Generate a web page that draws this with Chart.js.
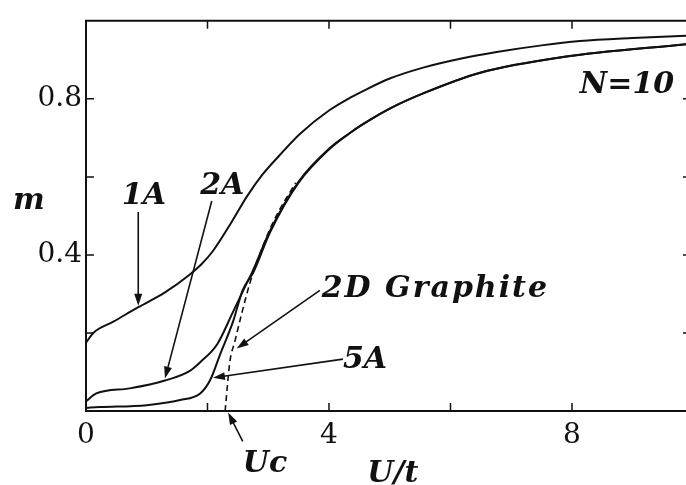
<!DOCTYPE html>
<html>
<head>
<meta charset="utf-8">
<script src="https://cdn.jsdelivr.net/npm/chart.js@4/dist/chart.umd.min.js"></script>
<style>
  html, body { margin: 0; padding: 0; background: #fff; }
  #wrap { width: 686px; height: 485px; }
</style>
</head>
<body>
<div id="wrap"><canvas id="myChart" width="686" height="485"></canvas></div>
<script>
// curves: U/t on x, m on y
const u1A = [0, 0.12, 0.45, 0.86, 1.3, 1.71, 1.9, 2.09, 2.4, 2.65, 2.9, 3.19, 3.52, 4.0, 4.35, 4.56, 5.0, 5.55, 6.2, 6.76, 7.5, 8.13, 9.0, 9.88];
const m1A = [0.175, 0.2, 0.229, 0.266, 0.304, 0.35, 0.376, 0.41, 0.485, 0.55, 0.605, 0.656, 0.71, 0.77, 0.803, 0.82, 0.852, 0.88, 0.904, 0.92, 0.937, 0.948, 0.956, 0.962];

const u2A = [0, 0.17, 0.72, 1.3, 1.71, 1.88, 2.16, 2.42, 2.65, 2.73, 3.03, 3.5, 4.0, 4.35, 4.56, 5.0, 5.55, 6.49, 7.85, 9.88];
const m2A = [0.025, 0.045, 0.058, 0.078, 0.103, 0.125, 0.171, 0.254, 0.329, 0.354, 0.462, 0.588, 0.672, 0.713, 0.735, 0.775, 0.814, 0.867, 0.907, 0.94];

const u5A = [0, 0.23, 1.0, 1.55, 1.88, 2.04, 2.21, 2.42, 2.58, 2.75, 3.03, 3.5, 4.0, 4.35, 4.56, 5.0, 5.55, 6.49, 7.85, 9.88];
const m5A = [0.008, 0.01, 0.015, 0.028, 0.045, 0.078, 0.146, 0.229, 0.31, 0.354, 0.458, 0.585, 0.67, 0.713, 0.735, 0.775, 0.814, 0.867, 0.907, 0.94];

const uGraphite = [2.29, 2.37, 2.45, 2.57, 2.70, 2.88, 3.1, 3.45];
const mGraphite = [0, 0.128, 0.178, 0.254, 0.329, 0.41, 0.49, 0.585];

// axis ticks
const xTicks = [0, 2, 4, 6, 8];
const xTickLabels = ["0", "", "4", "", "8"];
const yTicks = [0.2, 0.4, 0.6, 0.8];
const yTickLabels = ["", "0.4", "", "0.8"];

// annotations (data units): text + anchor, arrows as tail -> tip
const labelText = ["1A", "2A", "N=10", "2D Graphite", "5A", "Uc", "U/t", "m"];
const labelU = [0.59, 1.88, 8.13, 3.88, 4.23, 2.58, 4.63, -1.2];
const labelM = [0.53, 0.555, 0.814, 0.291, 0.11, -0.156, -0.181, 0.518];
const labelSpacing = [0, 0, 0, 2, 0, 0, 0, 0];
const arrows = [
    [0.86, 0.51, 0.86, 0.27],
    [2.07, 0.538, 1.3, 0.083],
    [3.85, 0.309, 2.48, 0.16],
    [4.23, 0.133, 2.09, 0.085],
    [2.58, -0.078, 2.34, -0.004]
];

const toXY = (us, ms) => us.map((u, i) => ({ x: u, y: ms[i] }));
const ink = "#111";
const labelFont = 'bold italic 30px "DejaVu Serif"';

function drawArrow(ctx, x1, y1, x2, y2) {
    const a = Math.atan2(y2 - y1, x2 - x1);
    const len = 12, half = 4;
    ctx.beginPath();
    ctx.moveTo(x1, y1);
    ctx.lineTo(x2 - Math.cos(a) * len * 0.6, y2 - Math.sin(a) * len * 0.6);
    ctx.stroke();
    ctx.beginPath();
    ctx.moveTo(x2, y2);
    ctx.lineTo(x2 - Math.cos(a) * len - Math.sin(a) * half, y2 - Math.sin(a) * len + Math.cos(a) * half);
    ctx.lineTo(x2 - Math.cos(a) * len + Math.sin(a) * half, y2 - Math.sin(a) * len - Math.cos(a) * half);
    ctx.closePath();
    ctx.fill();
}

const framePlugin = {
    id: "frame",
    afterDatasetsDraw(chart) {
        const ctx = chart.ctx;
        const { left, top, right, bottom } = chart.chartArea;
        const xs = chart.scales.x, ys = chart.scales.y;
        ctx.save();
        ctx.strokeStyle = ink;
        ctx.fillStyle = ink;
        // box (right edge runs off the picture)
        ctx.lineWidth = 2;
        ctx.beginPath();
        ctx.moveTo(right + 2, top);
        ctx.lineTo(left, top);
        ctx.lineTo(left, bottom);
        ctx.lineTo(right + 2, bottom);
        ctx.stroke();
        // inward ticks
        ctx.lineWidth = 1.5;
        xTicks.forEach(v => {
            if (v === 0) return;
            const px = xs.getPixelForValue(v);
            ctx.beginPath();
            ctx.moveTo(px, bottom); ctx.lineTo(px, bottom - 8);
            ctx.moveTo(px, top); ctx.lineTo(px, top + 8);
            ctx.stroke();
        });
        yTicks.forEach(v => {
            const py = ys.getPixelForValue(v);
            ctx.beginPath();
            ctx.moveTo(left, py); ctx.lineTo(left + 8, py);
            ctx.moveTo(right, py); ctx.lineTo(right - 3, py);
            ctx.stroke();
        });
        // arrows
        ctx.lineWidth = 1.6;
        arrows.forEach(a => {
            drawArrow(ctx, xs.getPixelForValue(a[0]), ys.getPixelForValue(a[1]),
                xs.getPixelForValue(a[2]), ys.getPixelForValue(a[3]));
        });
        // labels
        ctx.font = labelFont;
        ctx.textAlign = "left";
        ctx.textBaseline = "alphabetic";
        labelText.forEach((t, i) => {
            ctx.letterSpacing = labelSpacing[i] + "px";
            ctx.fillText(t, xs.getPixelForValue(labelU[i]), ys.getPixelForValue(labelM[i]));
        });
        ctx.letterSpacing = "0px";
        ctx.restore();
    }
};

const lineStyle = {
    borderColor: ink,
    borderWidth: 2,
    pointRadius: 0,
    fill: false,
    cubicInterpolationMode: "monotone"
};

const data = {
    datasets: [
        { label: "1A", data: toXY(u1A, m1A), ...lineStyle },
        { label: "2A", data: toXY(u2A, m2A), ...lineStyle },
        { label: "5A", data: toXY(u5A, m5A), ...lineStyle },
        { label: "2D Graphite", data: toXY(uGraphite, mGraphite), ...lineStyle, borderWidth: 1.6, borderDash: [6, 4] }
    ]
};

const config = {
    type: "line",
    data,
    options: {
        responsive: false,
        animation: false,
        devicePixelRatio: 1,
        layout: { padding: { left: 0, top: 13, right: 0, bottom: 0 } },
        plugins: {
            legend: { display: false },
            tooltip: { enabled: false }
        },
        scales: {
            x: {
                type: "linear",
                min: 0,
                max: 9.877,
                afterFit: s => { s.height = 74; },
                afterBuildTicks: s => { s.ticks = xTicks.map(v => ({ value: v })); },
                grid: { display: false, drawTicks: false },
                border: { display: false },
                ticks: {
                    color: ink,
                    padding: 8,
                    maxRotation: 0,
                    autoSkip: false,
                    font: { family: "DejaVu Serif", size: 28 },
                    callback: v => xTickLabels[xTicks.indexOf(v)] ?? ""
                }
            },
            y: {
                type: "linear",
                min: 0,
                max: 1,
                afterFit: s => { s.width = 86; },
                afterBuildTicks: s => { s.ticks = yTicks.map(v => ({ value: v })); },
                grid: { display: false, drawTicks: false },
                border: { display: false },
                ticks: {
                    color: ink,
                    padding: 4,
                    autoSkip: false,
                    font: { family: "DejaVu Serif", size: 28 },
                    callback: v => yTickLabels[yTicks.indexOf(v)] ?? ""
                }
            }
        }
    },
    plugins: [framePlugin]
};

const ctx = document.getElementById("myChart");
const myChart = new Chart(ctx, config);
</script>
</body>
</html>
